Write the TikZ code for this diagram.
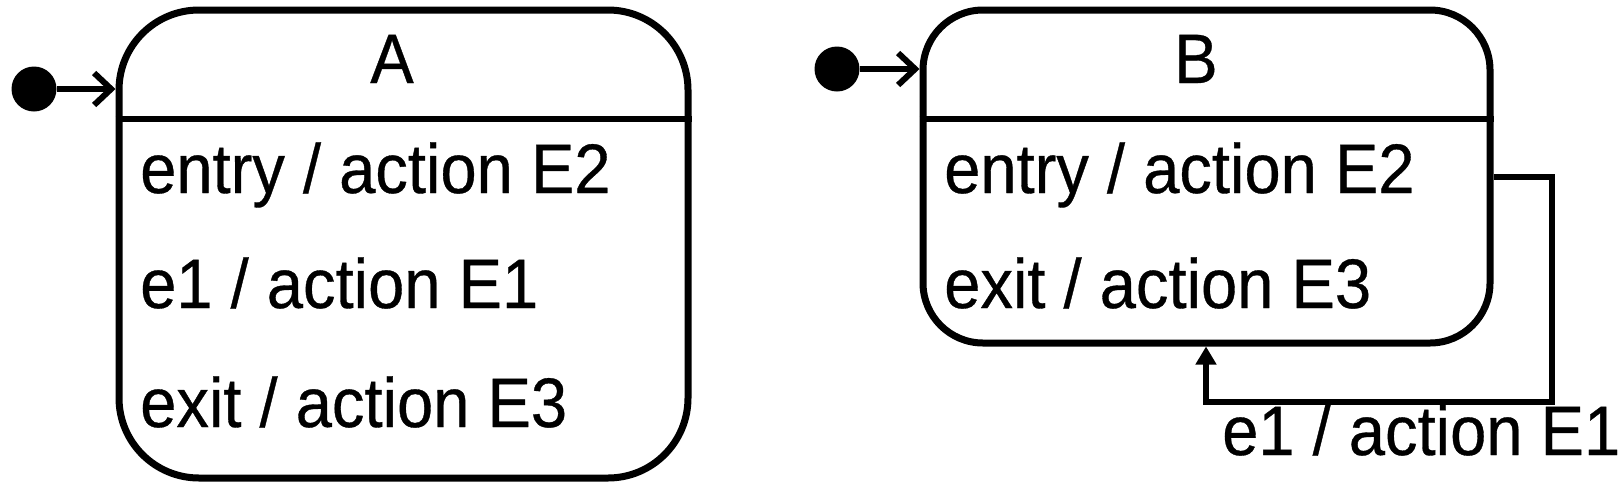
\documentclass[tikz,border=0pt]{standalone}
\usepackage{fontspec}
\setmainfont{Liberation Sans}[FakeStretch=0.93, FakeBold=0.5]
\usetikzlibrary{arrows.meta}
\begin{document}
\begin{tikzpicture}[x=1pt,y=-1pt,
  statebox/.style={draw=black, line width=7pt, rounded corners=#1, inner sep=0pt},
  divline/.style={draw=black, line width=6pt},
  txt/.style={inner sep=0pt, anchor=base west, font=\fontsize{70}{76}\selectfont},
  hdr/.style={inner sep=0pt, anchor=base, font=\fontsize{70}{76}\selectfont},
  initdot/.style={circle, fill=black, draw=none, minimum size=45pt, inner sep=0pt},
  initarrow/.style={line width=6pt, -{Straight Barb[length=17pt, width=32pt, line width=6pt]}},
  loopline/.style={line width=6pt, -{Triangle[length=18pt, width=20pt]}}
]
\useasboundingbox (0,0) rectangle (1624,488);
\fill[white] (0,0) rectangle (1624,488);

% State A
\node[statebox=80pt, minimum width=569pt, minimum height=468pt] (A) at (403.5,244) {};
\draw[divline] (A.west |- 0,119) -- (A.east |- 0,119);
\node[hdr] (Ah) at (392,83) {A};
\node[txt] (A1) at (140,193) {entry / action E2};
\node[txt] (A2) at (140,308) {e1 / action E1};
\node[txt] (A3) at (140,427) {exit / action E3};
\node[initdot] (iA) at (34,89) {};
\draw[initarrow] (iA) -- (iA -| A.west);

% State B
\node[statebox=60pt, minimum width=567pt, minimum height=333pt] (B) at (1206.5,176.5) {};
\draw[divline] (B.west |- 0,119) -- (B.east |- 0,119);
\node[hdr] (Bh) at (1196,83) {B};
\node[txt] (B1) at (944,193) {entry / action E2};
\node[txt] (B2) at (944,308) {exit / action E3};
\node[initdot] (iB) at (837,69) {};
\draw[initarrow] (iB) -- (iB -| B.west);

% Self transition
\coordinate (bend) at (1206,402);
\draw[loopline] (B.east) -- ++(58,0) |- (bend) -- (bend |- B.south);
\node[txt] (L) at (1222,455) {e1 / action E1};
\end{tikzpicture}
\end{document}
